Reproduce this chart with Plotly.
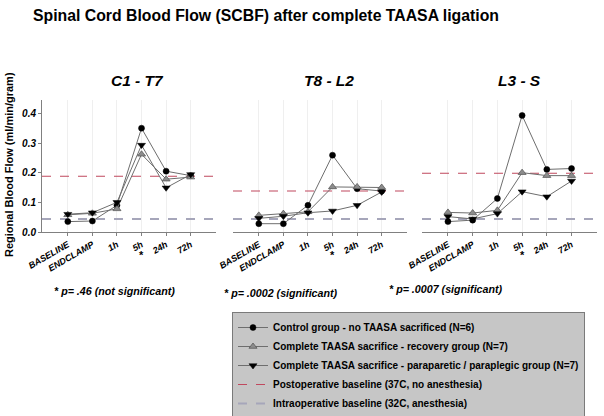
import plotly.graph_objects as go

W, H = 604, 416
FONT = "Liberation Sans, Arial, sans-serif"

categories = ["BASELINE", "ENDCLAMP", "1h", "5h", "24h", "72h"]
panel_titles = ["C1 - T7", "T8 - L2", "L3 - S"]
p_texts = ["* p= .46 (not significant)", "* p= .0002 (significant)", "* p= .0007 (significant)"]

# Control group - no TAASA sacrificed (N=6)
control = [
    [0.035, 0.037, 0.090, 0.350, 0.205, 0.190],
    [0.028, 0.028, 0.090, 0.259, 0.146, 0.138],
    [0.035, 0.040, 0.113, 0.393, 0.211, 0.214],
]
# Complete TAASA sacrifice - recovery group (N=7)
recovery = [
    [0.058, 0.063, 0.078, 0.262, 0.178, 0.185],
    [0.056, 0.062, 0.068, 0.152, 0.152, 0.150],
    [0.066, 0.064, 0.073, 0.200, 0.190, 0.190],
]
# Complete TAASA sacrifice - paraparetic / paraplegic group (N=7)
paraplegic = [
    [0.060, 0.065, 0.100, 0.293, 0.149, 0.194],
    [0.046, 0.053, 0.065, 0.071, 0.090, 0.135],
    [0.052, 0.044, 0.062, 0.136, 0.119, 0.172],
]
postop_baseline = [0.188, 0.138, 0.198]
intraop_baseline = [0.044, 0.044, 0.044]

XR = [-1.05, 6.03]
YR = [0, 0.445]

# pixel geometry -> paper
def px(x):
    return x / W

def py(y):
    return 1 - y / H

x_domains = [(42, 216), (233, 407), (422, 597)]
y_dom = [py(232), py(100)]

fig = go.Figure()
xs = list(range(len(categories)))

series = [
    ("Control group - no TAASA sacrificed (N=6)", control,
     dict(symbol="circle", size=6, color="black", line=dict(color="black", width=0.5))),
    ("Complete TAASA sacrifice - recovery group (N=7)", recovery,
     dict(symbol="triangle-up", size=7, color="#8c8c8c", line=dict(color="#5a5a5a", width=0.8))),
    ("Complete TAASA sacrifice - paraparetic / paraplegic group (N=7)", paraplegic,
     dict(symbol="triangle-down", size=7, color="black", line=dict(color="black", width=0.5))),
]

for i in range(3):
    xa = "x" if i == 0 else f"x{i+1}"
    ya = "y" if i == 0 else f"y{i+1}"
    fig.add_trace(go.Scatter(
        x=XR, y=[postop_baseline[i]] * 2, xaxis=xa, yaxis=ya, mode="lines",
        line=dict(color="#c0485e", width=1.1, dash="dash"),
        name="Postoperative baseline (37C, no anesthesia)",
        legendgroup="post", showlegend=(i == 0), legendrank=4))
    fig.add_trace(go.Scatter(
        x=XR, y=[intraop_baseline[i]] * 2, xaxis=xa, yaxis=ya, mode="lines",
        line=dict(color="#a6a6ba", width=2, dash="dash"),
        name="Intraoperative baseline (32C, anesthesia)",
        legendgroup="intra", showlegend=(i == 0), legendrank=5))
    for k, (name, data, mk) in enumerate(series):
        fig.add_trace(go.Scatter(
            x=xs, y=data[i], xaxis=xa, yaxis=ya, mode="lines+markers",
            line=dict(color="#6e6e6e", width=1), marker=mk, name=name,
            legendgroup=f"s{k}", showlegend=(i == 0), legendrank=k + 1))

tickfont_x = dict(family=FONT, size=9, color="black", weight="bold", style="italic")
layout = dict(
    template="none",
    width=W, height=H, margin=dict(l=0, r=0, t=0, b=0, pad=0, autoexpand=False),
    paper_bgcolor="white", plot_bgcolor="white",
    font=dict(family=FONT, color="black"),
)
for i in range(3):
    sx = "" if i == 0 else str(i + 1)
    layout[f"xaxis{sx}"] = dict(
        domain=[px(x_domains[i][0]), px(x_domains[i][1])], range=XR,
        anchor=f"y{sx}", tickmode="array", tickvals=xs, ticktext=categories,
        tickangle=-30, tickfont=tickfont_x, showline=True, linecolor="#808080",
        linewidth=1, ticks="outside", ticklen=3, tickcolor="#808080", automargin=False,
        showgrid=True, gridcolor="#efefef", gridwidth=1, zeroline=False, fixedrange=True)
    layout[f"yaxis{sx}"] = dict(
        domain=y_dom, range=YR, anchor=f"x{sx}", showgrid=False, zeroline=False,
        showline=(i == 0), linecolor="#808080", linewidth=1, automargin=False,
        ticks="outside" if i == 0 else "", ticklen=3, tickcolor="#808080",
        showticklabels=(i == 0), tickvals=[0, 0.1, 0.2, 0.3, 0.4], tickformat=".1f",
        tickfont=dict(family=FONT, size=10, color="black", weight="bold", style="italic"),
        fixedrange=True)
fig.update_layout(**layout)

def ann(text, x, y, size, xref="paper", angle=0):
    return dict(text=text, x=x, y=y, xref=xref, yref="paper", showarrow=False,
                xanchor="center", yanchor="middle", textangle=angle,
                font=dict(family=FONT, size=size, color="black"))

annotations = [
    ann("<b>Spinal Cord Blood Flow (SCBF) after complete TAASA ligation</b>", px(266), py(16), 15.8),
    ann("<b>Regional Blood Flow (ml/min/gram)</b>", px(9), py(165), 11, angle=-90),
]
title_x = [137, 329, 519]
p_pos = [(114, 291), (281, 293), (446, 289)]
for i in range(3):
    sx = "" if i == 0 else str(i + 1)
    annotations.append(ann(f"<b><i>{panel_titles[i]}</i></b>", px(title_x[i]), py(80), 15.5))
    annotations.append(ann("<b>*</b>", 3, py(255), 11, xref=f"x{sx}"))
    annotations.append(ann(f"<b><i>{p_texts[i]}</i></b>", px(p_pos[i][0]), py(p_pos[i][1]), 10.7))
fig.update_layout(annotations=annotations)

fig.update_layout(legend=dict(
    x=px(232), y=py(312), xanchor="left", yanchor="top",
    bgcolor="#c6c6c6", bordercolor="#7a7a7a", borderwidth=1,
    font=dict(family=FONT, size=10, color="black", weight="bold"),
    itemwidth=30, traceorder="normal", tracegroupgap=0,
))

fig.write_html("out.html", config={"displayModeBar": False, "staticPlot": True},
               post_script="document.body.style.margin='0px';document.body.style.padding='0px';")
